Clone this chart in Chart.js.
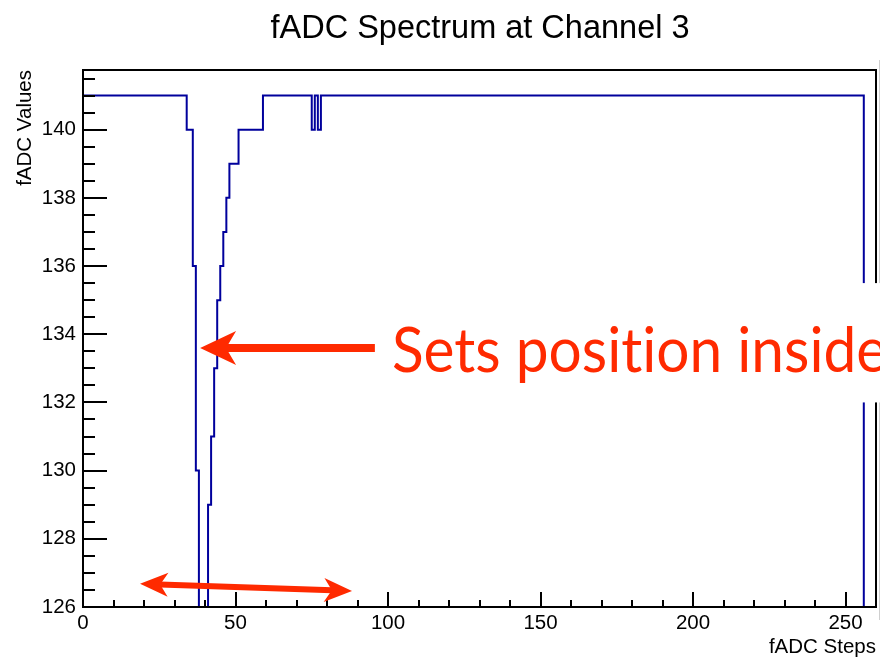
<!DOCTYPE html>
<html>
<head>
<meta charset="utf-8">
<script src="https://cdn.jsdelivr.net/npm/chart.js@4/dist/chart.umd.min.js"></script>
<style>
  html, body { margin: 0; padding: 0; background: #fff; }
  #wrap { width: 880px; height: 658px; position: relative; }
</style>
</head>
<body>
<div id="wrap"><canvas id="c" width="880" height="658"></canvas></div>
<script>
// ---- data ----
const chartTitle = 'fADC Spectrum at Channel 3';
const xAxisTitle = 'fADC Steps';
const yAxisTitle = 'fADC Values';
const xRange = [0, 260];
const yRange = [126, 141.75];
const xTickValues = [0, 50, 100, 150, 200, 250];
const yTickValues = [126, 128, 130, 132, 134, 136, 138, 140];

// fADC value of each sampling step (bins 0..255)
const binValues = [
  141,141,141,141,141,141,141,141,141,141, 141,141,141,141,141,141,141,141,141,141,
  141,141,141,141,141,141,141,141,141,141, 141,141,141,141,140,140,136,130,121,119,
  122,129,131,133,135,136,137,138,139,139, 139,140,140,140,140,140,140,140,140,141,
  141,141,141,141,141,141,141,141,141,141, 141,141,141,141,141,140,141,140,141,141,
  141,141,141,141,141,141,141,141,141,141, 141,141,141,141,141,141,141,141,141,141,
  141,141,141,141,141,141,141,141,141,141, 141,141,141,141,141,141,141,141,141,141,
  141,141,141,141,141,141,141,141,141,141, 141,141,141,141,141,141,141,141,141,141,
  141,141,141,141,141,141,141,141,141,141, 141,141,141,141,141,141,141,141,141,141,
  141,141,141,141,141,141,141,141,141,141, 141,141,141,141,141,141,141,141,141,141,
  141,141,141,141,141,141,141,141,141,141, 141,141,141,141,141,141,141,141,141,141,
  141,141,141,141,141,141,141,141,141,141, 141,141,141,141,141,141,141,141,141,141,
  141,141,141,141,141,141,141,141,141,141, 141,141,141,141,141,141,141,141,141,141,
  141,141,141,141,141,141,141,141,141,141, 141,141,141,141,141,141
];

// callout geometry, in axis units
const calloutText = 'Sets position inside';
const calloutArrow = { tipX: 38.4, tailX: 95.7, y: 133.6 };
const calloutBox = { x0: 98.4, x1: 262, y0: 135.5, y1: 132.0 };
const calloutTextPos = { x: 101.3, y: 132.9 };
const widthArrow = { x0: 18.7, y0: 126.68, x1: 88.2, y1: 126.47 };

// ---- styling ----
const FONT = "'Liberation Sans', Arial, Helvetica, sans-serif";
const LINE_BLUE = '#00009c';
const CALLOUT_RED = '#ff2a00';

const points = binValues.map((v, i) => ({ x: i, y: v }));
points.push({ x: binValues.length, y: yRange[0] }); // close the outline down to the axis

function drawArrowHead(ctx, tx, ty, ux, uy, len, half, notch) {
  // tip at (tx,ty), pointing along (ux,uy)
  const px = -uy, py = ux;
  ctx.beginPath();
  ctx.moveTo(tx, ty);
  ctx.lineTo(tx - ux * len + px * half, ty - uy * len + py * half);
  ctx.lineTo(tx - ux * len * notch, ty - uy * len * notch);
  ctx.lineTo(tx - ux * len - px * half, ty - uy * len - py * half);
  ctx.closePath();
  ctx.fill();
}

const frameAndTicks = {
  id: 'frameAndTicks',
  afterDatasetsDraw(chart) {
    const { ctx, chartArea: a, scales: { x, y } } = chart;
    ctx.save();
    ctx.strokeStyle = '#000';
    ctx.lineWidth = 2;
    ctx.beginPath();
    // y ticks: major every 2, minor every 0.5
    for (let v = yRange[0]; v <= yRange[1] + 1e-9; v += 0.5) {
      const py = Math.round(y.getPixelForValue(v));
      const major = yTickValues.includes(v);
      ctx.moveTo(a.left, py);
      ctx.lineTo(a.left + (major ? 24 : 12), py);
    }
    // x ticks: major every 50, minor every 10
    for (let v = xRange[0]; v < xRange[1]; v += 10) {
      const px = Math.round(x.getPixelForValue(v));
      const major = xTickValues.includes(v);
      ctx.moveTo(px, a.bottom);
      ctx.lineTo(px, a.bottom - (major ? 15 : 7));
    }
    ctx.stroke();
    ctx.strokeRect(a.left, a.top, a.right - a.left, a.bottom - a.top);
    // faint page edge on the right
    ctx.strokeStyle = '#cfcfcf';
    ctx.lineWidth = 1;
    ctx.beginPath();
    ctx.moveTo(879.5, 60);
    ctx.lineTo(879.5, 620);
    ctx.stroke();
    ctx.restore();
  }
};

const titleText = {
  id: 'titleText',
  afterDraw(chart) {
    const { ctx } = chart;
    ctx.save();
    ctx.font = '32.5px ' + FONT;
    ctx.fillStyle = '#000';
    ctx.textAlign = 'center';
    ctx.textBaseline = 'middle';
    ctx.fillText(chartTitle, 480, 29);
    ctx.restore();
  }
};

const callouts = {
  id: 'callouts',
  afterDraw(chart) {
    const { ctx, scales: { x, y } } = chart;
    ctx.save();
    // white panel behind the callout text
    const bx0 = x.getPixelForValue(calloutBox.x0), bx1 = x.getPixelForValue(calloutBox.x1);
    const by0 = y.getPixelForValue(calloutBox.y0), by1 = y.getPixelForValue(calloutBox.y1);
    ctx.fillStyle = '#fff';
    ctx.fillRect(bx0, by0, bx1 - bx0, by1 - by0);

    ctx.fillStyle = CALLOUT_RED;
    ctx.strokeStyle = CALLOUT_RED;
    // main arrow
    const tx = x.getPixelForValue(calloutArrow.tipX);
    const ax = x.getPixelForValue(calloutArrow.tailX);
    const ay = y.getPixelForValue(calloutArrow.y);
    ctx.lineWidth = 8;
    ctx.beginPath();
    ctx.moveTo(ax, ay);
    ctx.lineTo(tx + 25, ay);
    ctx.stroke();
    drawArrowHead(ctx, tx, ay, -1, 0, 36, 17, 0.72);

    // double-headed arrow
    const l = { x: x.getPixelForValue(widthArrow.x0), y: y.getPixelForValue(widthArrow.y0) };
    const r = { x: x.getPixelForValue(widthArrow.x1), y: y.getPixelForValue(widthArrow.y1) };
    const dx = r.x - l.x, dy = r.y - l.y, d = Math.hypot(dx, dy);
    const ux = dx / d, uy = dy / d;
    ctx.lineWidth = 6;
    ctx.beginPath();
    ctx.moveTo(l.x + ux * 20, l.y + uy * 20);
    ctx.lineTo(r.x - ux * 20, r.y - uy * 20);
    ctx.stroke();
    drawArrowHead(ctx, r.x, r.y, ux, uy, 28, 12, 0.72);
    drawArrowHead(ctx, l.x, l.y, -ux, -uy, 28, 12, 0.72);

    // callout text, slightly condensed, without the "ti" ligature
    const sx = x.getPixelForValue(calloutTextPos.x), sy = y.getPixelForValue(calloutTextPos.y);
    ctx.translate(sx, sy);
    ctx.scale(0.945, 1);
    ctx.font = "62px Lato, 'Open Sans', sans-serif";
    if ('letterSpacing' in ctx) ctx.letterSpacing = '0.01px';
    ctx.textAlign = 'left';
    ctx.textBaseline = 'alphabetic';
    ctx.fillText(calloutText, 0, 0);
    ctx.restore();
  }
};

new Chart(document.getElementById('c'), {
  type: 'line',
  data: {
    datasets: [{
      data: points,
      stepped: true,
      borderColor: LINE_BLUE,
      borderWidth: 2,
      pointRadius: 0,
      fill: false,
      tension: 0,
      clip: 0
    }]
  },
  options: {
    responsive: false,
    devicePixelRatio: 1,
    animation: false,
    layout: { padding: { left: 0, right: 4, top: 70, bottom: 0 } },
    plugins: {
      legend: { display: false },
      tooltip: { enabled: false },
      title: { display: false }
    },
    scales: {
      x: {
        type: 'linear',
        min: xRange[0],
        max: xRange[1],
        grid: { display: false, drawTicks: false },
        border: { display: false },
        afterBuildTicks: s => { s.ticks = xTickValues.map(v => ({ value: v })); },
        afterFit: s => { s.height = 51; },
        ticks: {
          color: '#000',
          padding: 4,
          maxRotation: 0,
          autoSkip: false,
          font: { family: FONT, size: 20.5 }
        },
        title: {
          display: true,
          text: xAxisTitle,
          align: 'end',
          color: '#000',
          padding: 0,
          font: { family: FONT, size: 20.5, lineHeight: 1 }
        }
      },
      y: {
        type: 'linear',
        min: yRange[0],
        max: yRange[1],
        grid: { display: false, drawTicks: false },
        border: { display: false },
        afterBuildTicks: s => { s.ticks = yTickValues.map(v => ({ value: v })); },
        afterFit: s => { s.width = 83; },
        ticks: {
          color: '#000',
          padding: 7,
          autoSkip: false,
          font: { family: FONT, size: 20.5 }
        },
        title: {
          display: true,
          text: yAxisTitle,
          align: 'end',
          color: '#000',
          padding: { top: 15, bottom: 0 },
          font: { family: FONT, size: 20.5, lineHeight: 1 }
        }
      }
    }
  },
  plugins: [frameAndTicks, titleText, callouts]
});
</script>
</body>
</html>
